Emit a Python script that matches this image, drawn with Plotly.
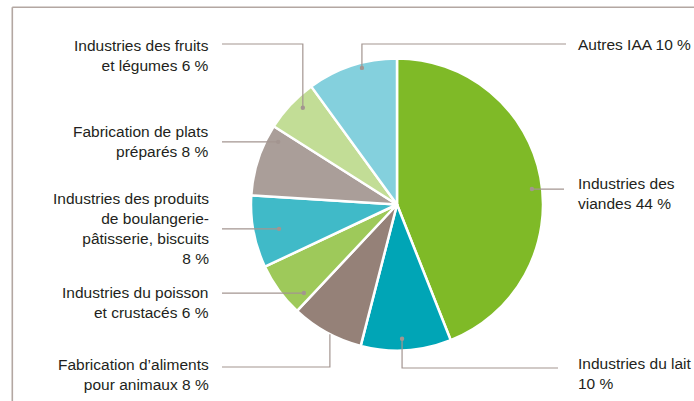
import math
import plotly.graph_objects as go

# ---- data ----
categories = [
    "Industries des viandes",
    "Industries du lait",
    "Fabrication d\u2019aliments pour animaux",
    "Industries du poisson et crustac\u00e9s",
    "Industries des produits de boulangerie-p\u00e2tisserie, biscuits",
    "Fabrication de plats pr\u00e9par\u00e9s",
    "Industries des fruits et l\u00e9gumes",
    "Autres IAA",
]
shares = [44, 10, 8, 6, 8, 8, 6, 10]
label_texts = [
    "Industries des<br>viandes 44 %",
    "Industries du lait<br>10 %",
    "Fabrication d\u2019aliments<br>pour animaux 8 %",
    "Industries du poisson<br>et crustac\u00e9s 6 %",
    "Industries des produits<br>de boulangerie-<br>p\u00e2tisserie, biscuits<br>8 %",
    "Fabrication de plats<br>pr\u00e9par\u00e9s 8 %",
    "Industries des fruits<br>et l\u00e9gumes 6 %",
    "Autres IAA 10 %",
]
colors = ["#7fba27", "#00a5b6", "#958178", "#9ec95a", "#40bac8", "#aa9e99", "#c2dd96", "#84d0dd"]

# ---- layout geometry (pixels) ----
W, H = 694, 401
CX, CY, R = 397, 204.5, 146

def px(x):
    return x / W

def py(y):
    return 1 - y / H

# leader style per slice: position within slice (fraction of span), radius fraction,
# elbow level (y) or None, end x of leader, label anchor (x, y centre), side
leaders = [
    dict(t=0.527, rho=0.93, elbow=None, xend=564, lx=576, ly=193, side="right"),
    dict(t=0.54, rho=0.92, elbow=368, xend=558, lx=576, ly=373, side="right"),
    dict(t=0.45, rho=1.0, elbow=367, xend=222, lx=211, ly=374.5, side="left", dot=False),
    dict(t=0.15, rho=0.88, elbow=None, xend=222, lx=211, ly=302, side="left"),
    dict(t=0.47, rho=0.825, elbow=None, xend=222, lx=211, ly=228, side="left"),
    dict(t=0.84, rho=0.92, elbow=None, xend=222, lx=211, ly=142, side="left"),
    dict(t=0.62, rho=0.925, elbow=44, xend=222, lx=211, ly=55, side="left"),
    dict(t=0.60, rho=0.966, elbow=44, xend=566, lx=576, ly=44, side="right"),
]

total = sum(shares)
fig = go.Figure()
fig.add_trace(go.Pie(
    labels=categories,
    values=shares,
    sort=False,
    direction="clockwise",
    rotation=0,
    marker=dict(colors=colors, line=dict(color="white", width=2.5)),
    textinfo="none",
    hoverinfo="label+percent",
    showlegend=False,
    domain=dict(x=[px(CX - R), px(CX + R)], y=[py(CY + R), py(CY - R)]),
))

LEADER = "#a39590"
shapes = []
annotations = []
cum = 0
for val, txt, spec in zip(shares, label_texts, leaders):
    a0 = cum / total * 360
    a1 = (cum + val) / total * 360
    cum += val
    ang = math.radians(a0 + spec["t"] * (a1 - a0))
    dx = CX + spec["rho"] * R * math.sin(ang)
    dy = CY - spec["rho"] * R * math.cos(ang)
    if spec["elbow"] is None:
        pts = [(dx, dy), (spec["xend"], dy)]
    else:
        pts = [(dx, dy), (dx, spec["elbow"]), (spec["xend"], spec["elbow"])]
    path = "M " + " L ".join(f"{px(x):.5f},{py(y):.5f}" for x, y in pts)
    shapes.append(dict(type="path", xref="paper", yref="paper", path=path,
                       line=dict(color=LEADER, width=1.2)))
    if spec.get("dot", True):
        rr = 2.2
        shapes.append(dict(type="circle", xref="paper", yref="paper",
                           x0=px(dx - rr), x1=px(dx + rr), y0=py(dy + rr), y1=py(dy - rr),
                           fillcolor=LEADER, line=dict(width=0)))
    annotations.append(dict(
        x=px(spec["lx"]), y=py(spec["ly"]), xref="paper", yref="paper",
        text=txt, showarrow=False,
        xanchor="left" if spec["side"] == "right" else "right",
        align="left" if spec["side"] == "right" else "right",
        yanchor="middle",
        font=dict(family="Liberation Sans, Arial, sans-serif", size=15.5, color="#231f20"),
    ))

# frame lines (left and top)
FRAME = "#b3a7a2"
shapes.append(dict(type="line", xref="paper", yref="paper",
                   x0=px(12.3), x1=px(12.3), y0=py(7.3), y1=py(H + 2),
                   line=dict(color=FRAME, width=1.6)))
shapes.append(dict(type="line", xref="paper", yref="paper",
                   x0=px(12.3), x1=px(W + 2), y0=py(7.3), y1=py(7.3),
                   line=dict(color=FRAME, width=1.6)))

fig.update_layout(
    width=W, height=H,
    margin=dict(l=0, r=0, t=0, b=0),
    paper_bgcolor="white",
    plot_bgcolor="white",
    shapes=shapes,
    annotations=annotations,
    showlegend=False,
)

fig.write_html(
    "out.html",
    config={"displayModeBar": False},
    post_script="document.body.style.margin='0';document.body.style.overflow='hidden';",
)
